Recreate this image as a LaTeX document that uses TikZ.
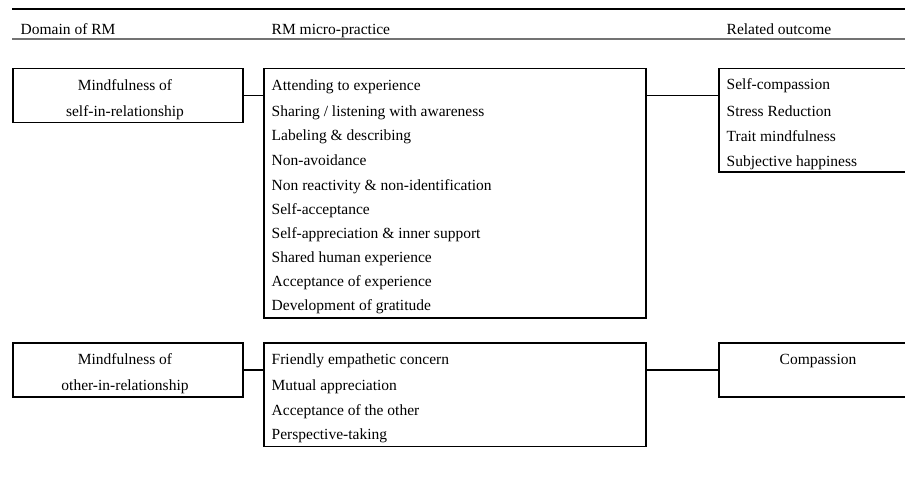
\documentclass[tikz,border=0pt]{standalone}
\usepackage{fontspec}
\setmainfont{Liberation Serif}
\tikzset{
  frame/.style={draw, line width=1.5pt, inner sep=0pt, anchor=north west},
  entry/.style={anchor=base west, inner sep=0pt},
  title/.style={anchor=base, inner sep=0pt},
  link/.style={line width=1.5pt}
}
\begin{document}
\begin{tikzpicture}[x=1pt,y=-1pt]
  \useasboundingbox (0,0) rectangle (905,486);
  \clip (0,0) rectangle (905,486);
  {\fontsize{15.5}{24}\selectfont

  % Drawing table rules
  \draw [line width=2pt] (12,9.5) -- (905,9.5);%
  \draw [line width=1.6pt, color=black!55] (12,39) -- (905,39);%

  % Marking column heads
  \node [entry] (headDomain) at (20.5,35) {Domain of RM};%
  \node [entry] (headPractice) at (271.5,35) {RM micro-practice};%
  \node [entry] (headOutcome) at (726.5,35) {Related outcome};%

  % Drawing boxes of self-in-relationship
  \node [frame, minimum width=230pt, minimum height=54pt] (domSelf) at (12,68) {};%
  \node [frame, minimum width=382pt, minimum height=249.5pt] (pracSelf) at (263,68) {};%
  \node [frame, minimum width=200pt, minimum height=103.5pt] (outSelf) at (718,68) {};%

  % Drawing boxes of other-in-relationship
  \node [frame, minimum width=230pt, minimum height=54pt] (domOther) at (12,342) {};%
  \node [frame, minimum width=382pt, minimum height=103.5pt] (pracOther) at (263,342) {};%
  \node [frame, minimum width=200pt, minimum height=54pt] (outOther) at (718,342) {};%

  % Drawing connectors
  \draw [link] (domSelf.east) -- (domSelf.east -| pracSelf.west);%
  \draw [link] (pracSelf.east |- domSelf.east) -- (outSelf.west |- domSelf.east);%
  \draw [link] (domOther.east) -- (domOther.east -| pracOther.west);%
  \draw [link] (pracOther.east |- domOther.east) -- (outOther.west |- domOther.east);%

  % Marking domains
  \node [title] (domSelfA) at (125,91) {Mindfulness of};%
  \node [title] (domSelfB) at (125,116.5) {self-in-relationship};%
  \node [title] (domOtherA) at (125,364) {Mindfulness of};%
  \node [title] (domOtherB) at (125,390.5) {other-in-relationship};%

  % Marking micro-practices
  \foreach \y/\t [count=\i] in {90.7/{Attending to experience},
      116.2/{Sharing / listening with awareness},
      140.5/{Labeling \& describing},
      165.5/{Non-avoidance},
      190.5/{Non reactivity \& non-identification},
      215/{Self-acceptance},
      239/{Self-appreciation \& inner support},
      262.5/{Shared human experience},
      286.7/{Acceptance of experience},
      310.7/{Development of gratitude}}
    \node [entry] (pracSelf\i) at (271.5,\y) {\t};%
  \foreach \y/\t [count=\i] in {364/{Friendly empathetic concern},
      390.5/{Mutual appreciation},
      415/{Acceptance of the other},
      439.3/{Perspective-taking}}
    \node [entry] (pracOther\i) at (271.5,\y) {\t};%

  % Marking outcomes
  \foreach \y/\t [count=\i] in {90/{Self-compassion},
      116.5/{Stress Reduction},
      141.7/{Trait mindfulness},
      166.7/{Subjective happiness}}
    \node [entry] (outSelf\i) at (726.5,\y) {\t};%
  \node [title] (outOtherA) at (818,364.3) {Compassion};%
  }
\end{tikzpicture}
\end{document}
